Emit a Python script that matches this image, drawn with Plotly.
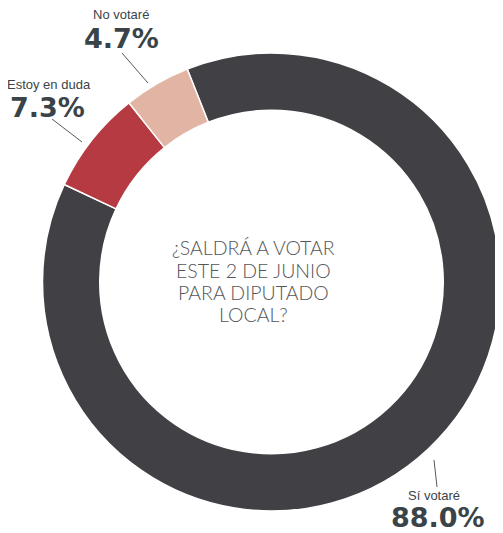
import plotly.graph_objects as go

# Data
categories = ["Sí votaré", "Estoy en duda", "No votaré"]
values = [88.0, 7.3, 4.7]
value_labels = ["88.0%", "7.3%", "4.7%"]
colors = ["#414044", "#b63a41", "#e2b4a3"]
center_lines = ["¿SALDRÁ A VOTAR", "ESTE 2 DE JUNIO", "PARA DIPUTADO", "LOCAL?"]

# The page places the figure 8px in from the window's corner (body margin)
OFF = 8
W, H = 503 - OFF, 533 - OFF

def px(x):
    return (x - OFF) / W

def py(y):
    return 1 - (y - OFF) / H

cx, cy, R = 271.5, 282, 229

fig = go.Figure(go.Pie(
    labels=categories,
    values=values,
    hole=0.75,
    sort=False,
    direction="clockwise",
    rotation=-21.6,
    marker=dict(colors=colors, line=dict(color="white", width=1.5)),
    textinfo="none",
    hoverinfo="label+percent",
    showlegend=False,
    domain=dict(x=[px(cx - R), px(cx + R)], y=[py(cy + R), py(cy - R)]),
))

label_font = dict(family="Liberation Sans Narrow, Liberation Sans, Arial", size=13, color="#3b4347")
value_font = dict(family="DejaVu Sans", size=27, color="#3a4448", weight="bold")

# label positions (pixel centers: label x, y, value x, y) for each category
label_pos = {
    "No votaré": (121, 14, 121, 38),
    "Estoy en duda": (49, 84, 47, 107),
    "Sí votaré": (434, 495, 438, 517),
}
leaders = {
    "No votaré": ((122, 53), (148, 83)),
    "Estoy en duda": ((52, 119), (82, 142)),
    "Sí votaré": ((434, 460), (437, 487)),
}

annotations = []
shapes = []
for name, vlab in zip(categories, value_labels):
    lx, ly, vx, vy = label_pos[name]
    annotations.append(dict(x=px(lx), y=py(ly), xref="paper", yref="paper", text=name,
                            showarrow=False, font=label_font, xanchor="center", yanchor="middle",
                            borderpad=0))
    annotations.append(dict(x=px(vx), y=py(vy), xref="paper", yref="paper", text=vlab,
                            showarrow=False, font=value_font, xanchor="center", yanchor="middle",
                            borderpad=0))
    (x0, y0), (x1, y1) = leaders[name]
    shapes.append(dict(type="line", xref="paper", yref="paper", x0=px(x0), y0=py(y0),
                       x1=px(x1), y1=py(y1), line=dict(color="#555a5e", width=1)))

for i, line in enumerate(center_lines):
    annotations.append(dict(x=px(253), y=py(248 + 22 * i), xref="paper", yref="paper", text=line,
                            showarrow=False, align="center", xanchor="center", yanchor="middle",
                            font=dict(family="Lato", size=19.5, color="#555658", weight=300)))

fig.update_layout(
    width=W, height=H,
    margin=dict(l=0, r=0, t=0, b=0),
    paper_bgcolor="white",
    plot_bgcolor="white",
    annotations=annotations,
    shapes=shapes,
)

fig.write_html("out.html")
